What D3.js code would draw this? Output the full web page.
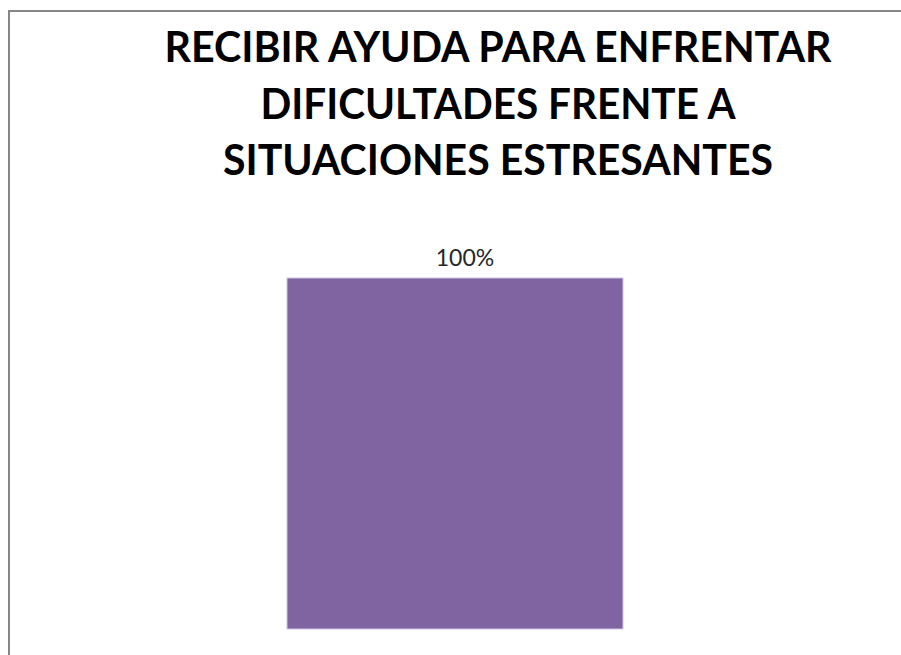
<!DOCTYPE html>
<html>
<head>
<meta charset="utf-8">
<script src="https://cdn.jsdelivr.net/npm/d3@7"></script>
<style>
  html, body { margin: 0; padding: 0; background: #ffffff; }
  svg { display: block; }
</style>
</head>
<body>
<svg id="chart" width="901" height="655"></svg>
<script>
// Chart content
const titleLines = [
  "RECIBIR AYUDA PARA ENFRENTAR",
  "DIFICULTADES FRENTE A",
  "SITUACIONES ESTRESANTES"
];
const categories = ["Sí"];
const values = [1.0];
const valueLabels = ["100%"];

const W = 901, H = 655;
const svg = d3.select("#chart");

// Chart frame (extends past the right and bottom edges)
svg.append("rect")
  .attr("x", 9).attr("y", 11)
  .attr("width", W + 20).attr("height", H + 20)
  .attr("fill", "#ffffff")
  .attr("stroke", "#868686")
  .attr("stroke-width", 2);

// Title, three centered bold lines
const titleWidths = [667, 475, 550];
const titleBaselines = [62, 119, 175];
svg.append("g").selectAll("text")
  .data(titleLines)
  .join("text")
  .attr("x", 498)
  .attr("y", (d, i) => titleBaselines[i])
  .attr("text-anchor", "middle")
  .attr("font-family", "Lato, 'Open Sans', sans-serif")
  .attr("font-weight", 700)
  .attr("font-size", 42)
  .attr("fill", "#000000")
  .attr("textLength", (d, i) => titleWidths[i])
  .attr("lengthAdjust", "spacingAndGlyphs")
  .text(d => d);

// Scales
const x = d3.scaleBand()
  .domain(categories)
  .range([175, 735])
  .paddingInner(0.25)
  .paddingOuter(0.25);

const y = d3.scaleLinear()
  .domain([0, 1])
  .range([629, 278]);

const data = categories.map((c, i) => ({ cat: c, value: values[i], label: valueLabels[i] }));

// Bars
svg.append("g").selectAll("rect")
  .data(data)
  .join("rect")
  .attr("x", d => x(d.cat))
  .attr("y", d => y(d.value))
  .attr("width", x.bandwidth())
  .attr("height", d => y(0) - y(d.value))
  .attr("fill", "#8064A2")
  .attr("stroke", "#cfc4e6")
  .attr("stroke-width", 1);

// Value labels
svg.append("g").selectAll("text")
  .data(data)
  .join("text")
  .attr("x", d => x(d.cat) + x.bandwidth() / 2 + 10)
  .attr("y", d => y(d.value) - 12)
  .attr("text-anchor", "middle")
  .attr("font-family", "Lato, 'Open Sans', sans-serif")
  .attr("font-size", 23)
  .attr("fill", "#262626")
  .text(d => d.label);
</script>
</body>
</html>
